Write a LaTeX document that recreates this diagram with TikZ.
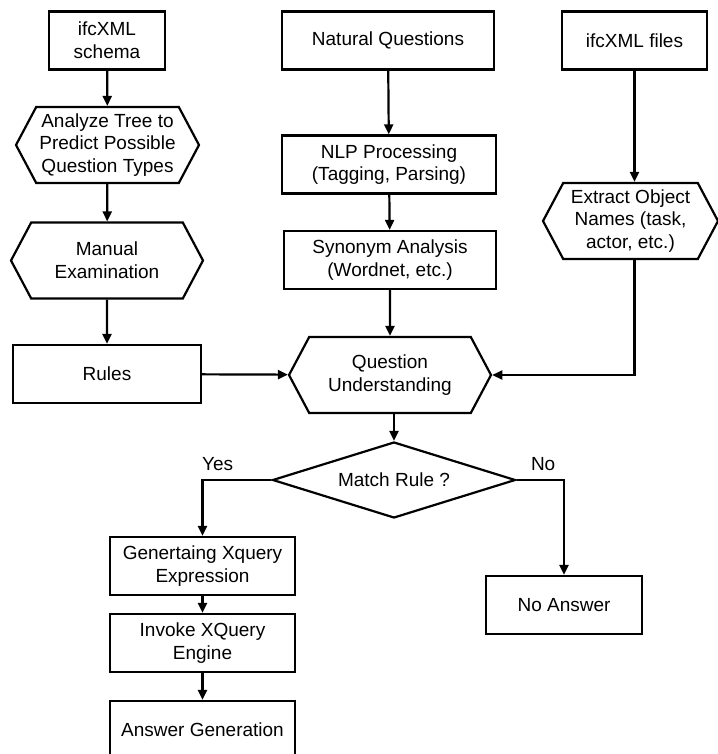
\documentclass[tikz,border=0pt]{standalone}
\usepackage{fontspec}
\setmainfont{Liberation Sans}
\usetikzlibrary{shapes.geometric,shapes.symbols,arrows.meta}
\tikzset{
	box/.style={draw,line width=2.2pt,align=center,inner sep=0pt,minimum height=58pt},
	hexa/.style={draw,line width=2.2pt,align=center,inner sep=0pt,shape=signal,signal to=west and east,signal pointer angle=124,minimum height=76pt},
	flow/.style={line width=2.2pt,-{Triangle[length=10pt,width=9pt]}}
}
\begin{document}
\begin{tikzpicture}[x=1pt,y=-1pt,font=\fontsize{19}{22.8}\selectfont]
	\useasboundingbox (0,0) rectangle (717,754);
	\node[box,minimum width=116pt] (A) at (107,40.5) {ifcXML\\ schema};
	\node[box,minimum width=212pt] (B) at (388,40.5) {Natural Questions};
	\node[box,minimum width=145pt] (C) at (634.5,40.5) {ifcXML files};
	\node[hexa,minimum width=183pt] (D) at (107.5,145) {Analyze Tree to\\ Predict Possible\\ Question Types};
	\node[box,minimum width=214pt] (E) at (389,164.5) {NLP Processing\\ (Tagging, Parsing)};
	\node[hexa,minimum width=175pt] (F) at (630.5,221) {Extract Object\\ Names (task,\\ actor, etc.)};
	\node[hexa,minimum width=192pt] (G) at (107,260.5) {Manual\\ Examination};
	\node[box,minimum width=212pt] (H) at (390,260) {Synonym Analysis\\ (Wordnet, etc.)};
	\node[box,minimum width=188pt] (I) at (107,374) {Rules};
	\node[hexa,minimum width=202pt] (J) at (390,375) {Question\\ Understanding};
	\node[draw,line width=2.2pt,diamond,aspect=3.2,inner sep=0pt,minimum width=243pt,minimum height=76pt] (K) at (394,480) {Match Rule ?};
	\node[box,minimum width=185pt] (L) at (202.5,566) {Genertaing Xquery\\ Expression};
	\node[box,minimum width=185pt] (M) at (202.5,643) {Invoke XQuery\\ Engine};
	\node[box,minimum width=185pt] (N) at (202.5,730) {Answer Generation};
	\node[box,minimum width=156pt] (O) at (564,605) {No Answer};
	\draw[flow] (A) -- (D);
	\draw[flow] (D) -- (G);
	\draw[flow] (G) -- (I);
	\draw[flow] (B) -- (E);
	\draw[flow] (E) -- (H);
	\draw[flow] (H) -- (J);
	\draw[flow] (C) -- (C |- F.north);
	\draw[flow] (C |- F.south) |- (J.east);
	\draw[flow] (I) -- (J);
	\draw[flow] (K.north |- J.south) -- (K.north);
	\draw[flow] (K.west) -| (L.north) node[pos=0.39,above=5pt] {Yes};
	\draw[flow] (K.east) -| (O.north) node[pos=0.28,above=5pt] {No};
	\draw[flow] (L) -- (M);
	\draw[flow] (M) -- (N);
\end{tikzpicture}
\end{document}
